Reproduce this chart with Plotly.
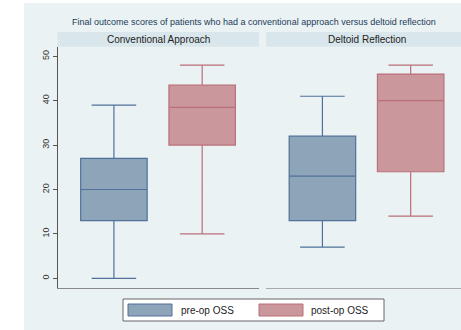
import plotly.graph_objects as go

# Panels and series
groups = ["Conventional Approach", "Deltoid Reflection"]
series = ["pre-op OSS", "post-op OSS"]
title_text = "Final outcome scores of patients who had a conventional approach versus deltoid reflection"

# Box summaries (whisker low, Q1, median, Q3, whisker high) per panel
pre_low = [0, 7]
pre_q1 = [13, 13]
pre_med = [20, 23]
pre_q3 = [27, 32]
pre_high = [39, 41]

post_low = [10, 14]
post_q1 = [30, 24]
post_med = [38.5, 40]
post_q3 = [43.5, 46]
post_high = [48, 48]

y_ticks = [0, 10, 20, 30, 40, 50]

W, H = 461, 330
BG = "#eaf2f3"
STRIP = "#d9e6eb"
PRE_FILL = "#8ea4b9"
PRE_LINE = "#50719a"
POST_FILL = "#c9979c"
POST_LINE = "#bb6f79"
FONT = "Liberation Sans, Arial, sans-serif"


def px(x):
    return x / W


def py(y):
    return 1 - y / H


top, bottom = 47, 288
panels = [(57.5, 259.0), (266.0, 461.0)]
panel_w = panels[0][1] - panels[0][0]
positions = [0.28, 0.718]

fig = go.Figure()

styles = [
    (pre_low, pre_q1, pre_med, pre_q3, pre_high, PRE_FILL, PRE_LINE),
    (post_low, post_q1, post_med, post_q3, post_high, POST_FILL, POST_LINE),
]

for gi, g in enumerate(groups):
    xa = "x" if gi == 0 else "x2"
    ya = "y" if gi == 0 else "y2"
    for si, (lo, q1, md, q3, hi, fc, lc) in enumerate(styles):
        fig.add_trace(go.Box(
            x=[positions[si]], lowerfence=[lo[gi]], q1=[q1[gi]], median=[md[gi]],
            q3=[q3[gi]], upperfence=[hi[gi]], width=0.33, whiskerwidth=0.67,
            fillcolor=fc, line=dict(color=lc, width=1.2), name=series[si],
            showlegend=False, boxpoints=False, xaxis=xa, yaxis=ya,
        ))

yr = [(278.3 - bottom) / 4.44, (278.3 - top) / 4.44]

common_y = dict(range=yr, tickvals=y_ticks, showgrid=True, gridcolor="#eef3f4",
                gridwidth=1, zeroline=False, domain=[py(bottom), py(top)])

fig.update_layout(
    width=W, height=H, margin=dict(l=0, r=0, t=0, b=0),
    paper_bgcolor="white", plot_bgcolor="white", showlegend=False,
    font=dict(family=FONT, color="#333333"),
    xaxis=dict(domain=[px(panels[0][0]), px(panels[0][1])], range=[0, 1],
               showticklabels=False, ticks="", showgrid=False, zeroline=False,
               showline=True, linecolor="#888888", linewidth=1, mirror=False),
    xaxis2=dict(domain=[px(panels[1][0]), 1], range=[0, (panels[1][1] - panels[1][0]) / panel_w],
                showticklabels=False, ticks="", showgrid=False, zeroline=False,
                showline=True, linecolor="#aaaaaa", linewidth=1),
    yaxis=dict(**common_y, showline=True, linecolor="#555555", linewidth=1,
               ticks="outside", ticklen=4, tickcolor="#555555", tickangle=-90,
               tickfont=dict(size=9, color="#333333"), anchor="x"),
    yaxis2=dict(**common_y, showticklabels=False, ticks="", showline=False, anchor="x2"),
    boxmode="overlay",
)

shapes = []
# outer graph region
shapes.append(dict(type="rect", xref="paper", yref="paper", x0=px(24), x1=1, y0=0, y1=py(3),
                   fillcolor=BG, line=dict(width=0), layer="below"))
annotations = []
for gi, (x0, x1) in enumerate(panels):
    shapes.append(dict(type="rect", xref="paper", yref="paper", x0=px(x0), x1=px(min(x1, W)),
                       y0=py(46.7), y1=py(32), fillcolor=STRIP, line=dict(width=0), layer="below"))
    annotations.append(dict(text=groups[gi], xref="paper", yref="paper",
                            x=px((x0 + x0 + panel_w) / 2), y=py(39.5), showarrow=False,
                            xanchor="center", yanchor="middle",
                            font=dict(size=10, color="#222222")))

annotations.append(dict(text=title_text, xref="paper", yref="paper", x=px(254), y=py(22),
                        showarrow=False, xanchor="center", yanchor="middle",
                        font=dict(size=9, color="#1c3a5a")))

# legend frame, swatches and labels
shapes.append(dict(type="rect", xref="paper", yref="paper", x0=px(123), x1=px(384),
                   y0=py(321), y1=py(299), fillcolor="white",
                   line=dict(color="#666666", width=1)))
legend_items = [(128, 172, 179, PRE_FILL, PRE_LINE), (259, 303, 309, POST_FILL, POST_LINE)]
for si, (sx0, sx1, tx, fc, lc) in enumerate(legend_items):
    shapes.append(dict(type="rect", xref="paper", yref="paper", x0=px(sx0), x1=px(sx1),
                       y0=py(316), y1=py(304), fillcolor=fc, line=dict(color=lc, width=1)))
    annotations.append(dict(text=series[si], xref="paper", yref="paper", x=px(tx), y=py(310.5),
                            showarrow=False, xanchor="left", yanchor="middle",
                            font=dict(size=10, color="#222222")))

fig.update_layout(shapes=shapes, annotations=annotations)
fig.write_html("out.html")
